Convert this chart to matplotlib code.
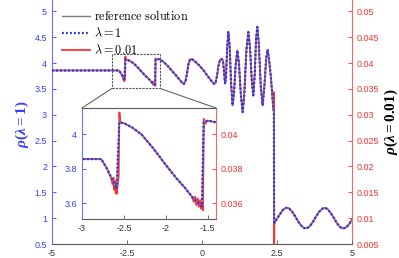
import matplotlib.pyplot as plt
import numpy as np
from matplotlib.patches import Rectangle, ConnectionPatch

plt.rcParams['font.family'] = ['Liberation Sans', 'DejaVu Sans']
plt.rcParams['mathtext.fontset'] = 'cm'
# bold serif for the two axis titles (used through math_fontfamily='custom')
plt.rcParams['mathtext.rm'] = 'Liberation Serif:bold'
plt.rcParams['mathtext.it'] = 'Liberation Serif:italic:bold'
plt.rcParams['mathtext.bf'] = 'Liberation Serif:bold'

# density (reference and lambda = 1 overlap)
x_ref = [-5, -2.77, -2.70, -2.64, -2.587, -2.555, -2.50, -2.40, -2.29, -2.15,
         -2.01, -1.88, -1.77, -1.67, -1.60, -1.568, -1.548, -1.50, -1.45, -1.40,
         -1.30, -1.15, -1.00, -0.85, -0.72, -0.65, -0.60, -0.55, -0.50, -0.45,
         -0.40, -0.35, -0.25, -0.10, 0.05, 0.20, 0.32, 0.40, 0.45, 0.50,
         0.55, 0.60, 0.65, 0.70, 0.74, 0.77, 0.80, 0.84, 0.877, 0.92,
         0.97, 1.02, 1.07, 1.12, 1.178, 1.23, 1.30, 1.356, 1.41, 1.48,
         1.545, 1.60, 1.66, 1.71, 1.76, 1.80, 1.845, 1.89, 1.96, 2.02,
         2.08, 2.14, 2.19, 2.24, 2.30, 2.36, 2.395, 2.405, 2.42, 2.5,
         2.6, 2.7, 2.8, 2.9, 3.0, 3.1, 3.2, 3.3, 3.4, 3.5,
         3.6, 3.7, 3.8, 3.9, 4.0, 4.1, 4.2, 4.3, 4.4, 4.5,
         4.6, 4.7, 4.8, 4.9, 5.0]
rho_ref = [3.857, 3.857, 3.80, 3.74, 3.685, 4.07, 4.065, 4.04, 4.00, 3.92,
           3.83, 3.75, 3.69, 3.63, 3.60, 3.585, 4.07, 4.08, 4.075, 4.07,
           4.03, 3.95, 3.85, 3.75, 3.66, 3.61, 3.60, 3.65, 3.80, 3.98,
           4.07, 4.08, 4.04, 3.96, 3.86, 3.74, 3.65, 3.60, 3.61, 3.75,
           3.95, 4.06, 4.08, 4.05, 3.80, 3.60, 3.75, 4.30, 4.60, 4.35,
           3.60, 3.18, 3.45, 3.95, 4.245, 4.00, 3.35, 3.05, 3.40, 4.25,
           4.60, 4.30, 3.65, 3.375, 3.80, 4.45, 4.70, 4.40, 3.55, 3.18,
           3.55, 4.10, 4.26, 4.05, 3.70, 3.25, 3.05, 0.95, 0.91, 0.99,
           1.08, 1.16, 1.20, 1.19, 1.13, 1.04, 0.94, 0.86, 0.81, 0.805,
           0.85, 0.93, 1.03, 1.12, 1.18, 1.20, 1.17, 1.09, 1.00, 0.90,
           0.83, 0.80, 0.82, 0.88, 0.97]

# lambda = 0.01, in right-axis units
x_lam001 = [-5, -2.77, -2.70, -2.65, -2.635, -2.625, -2.615, -2.605, -2.598, -2.592,
            -2.587, -2.575, -2.562, -2.557, -2.553, -2.545, -2.50, -2.40, -2.29, -2.15,
            -2.01, -1.88, -1.77, -1.69, -1.665, -1.65, -1.635, -1.62, -1.605, -1.59,
            -1.578, -1.568, -1.556, -1.550, -1.545, -1.535, -1.50, -1.45, -1.40,
            -1.30, -1.15, -1.00, -0.85, -0.72, -0.65, -0.60, -0.55, -0.50, -0.45,
            -0.40, -0.35, -0.25, -0.10, 0.05, 0.20, 0.32, 0.40, 0.45, 0.50,
            0.55, 0.60, 0.65, 0.70, 0.74, 0.77, 0.80, 0.84, 0.877, 0.92,
            0.97, 1.02, 1.07, 1.12, 1.178, 1.23, 1.30, 1.356, 1.41, 1.48,
            1.545, 1.60, 1.66, 1.71, 1.76, 1.80, 1.845, 1.89, 1.96, 2.02,
            2.08, 2.14, 2.19, 2.24, 2.30, 2.36, 2.385, 2.39, 2.395, 2.40,
            2.405, 2.41, 2.42, 2.5,
            2.6, 2.7, 2.8, 2.9, 3.0, 3.1, 3.2, 3.3, 3.4, 3.5,
            3.6, 3.7, 3.8, 3.9, 4.0, 4.1, 4.2, 4.3, 4.4, 4.5,
            4.6, 4.7, 4.8, 4.9, 5.0]
rho_lam001 = [0.03857, 0.03857, 0.0380, 0.03745, 0.0371, 0.0375, 0.0368, 0.0373, 0.0366, 0.0371,
              0.03655, 0.0370, 0.0376, 0.0400, 0.04127, 0.0407, 0.04065, 0.0404, 0.0400, 0.0392,
              0.0383, 0.0375, 0.0369, 0.0364, 0.0361, 0.0364, 0.0359, 0.0363, 0.0358, 0.0362,
              0.0357, 0.0360, 0.0356, 0.0385, 0.0409, 0.0406, 0.0408, 0.04075, 0.0407,
              0.0403, 0.0395, 0.0385, 0.0375, 0.0366, 0.0361, 0.0360, 0.0365, 0.0380, 0.0398,
              0.0407, 0.0408, 0.0404, 0.0396, 0.0386, 0.0374, 0.0365, 0.0360, 0.0361, 0.0375,
              0.0395, 0.0406, 0.0408, 0.0405, 0.0380, 0.0360, 0.0375, 0.0430, 0.0460, 0.0435,
              0.0360, 0.0318, 0.0345, 0.0395, 0.04245, 0.0400, 0.0335, 0.0305, 0.0340, 0.0425,
              0.0460, 0.0430, 0.0365, 0.03375, 0.0380, 0.0445, 0.0470, 0.0440, 0.0355, 0.0318,
              0.0355, 0.0410, 0.0426, 0.0405, 0.0370, 0.0325, 0.0310, 0.0344, 0.0305, 0.0300,
              0.0051, 0.0093, 0.0091, 0.0099,
              0.0108, 0.0116, 0.0120, 0.0119, 0.0113, 0.0104, 0.0094, 0.0086, 0.0081, 0.00805,
              0.0085, 0.0093, 0.0103, 0.0112, 0.0118, 0.0120, 0.0117, 0.0109, 0.0100, 0.0090,
              0.0083, 0.0080, 0.0082, 0.0088, 0.0097]

yticks_left = [0.5, 1, 1.5, 2, 2.5, 3, 3.5, 4, 4.5, 5]
yticks_right = [0.005, 0.01, 0.015, 0.02, 0.025, 0.03, 0.035, 0.04, 0.045, 0.05]
xticks = [-5, -2.5, 0, 2.5, 5]
zoom_x = (-3, -1.4)
zoom_y = (3.51, 4.153)

blue = '#3b3bff'
red = '#ff2f2f'
axcol = '#5a5a5a'
tfs = 6.5


def style(a, ar):
    a.set_zorder(ar.get_zorder() + 1)
    a.patch.set_visible(False)
    ar.patch.set_visible(True)
    ar.patch.set_facecolor('white')
    for s in ('top', 'right'):
        a.spines[s].set_visible(False)
    for s in ('top', 'left', 'bottom'):
        ar.spines[s].set_visible(False)
    a.spines['left'].set_color('#7070ff')
    a.spines['bottom'].set_color(axcol)
    ar.spines['right'].set_color('#ff6060')
    a.tick_params(axis='y', direction='in', length=3, colors=blue, labelsize=tfs, width=0.6)
    a.tick_params(axis='x', direction='in', length=3, color=axcol, labelcolor='#333333',
                  labelsize=tfs, width=0.6)
    ar.tick_params(axis='y', direction='in', length=3, colors=red, labelsize=tfs, width=0.6)


def draw(a, ar):
    l0, = a.plot(x_ref, rho_ref, color='#7f7f7f', lw=1.0, zorder=1)
    l2, = ar.plot(x_lam001, rho_lam001, color=red, lw=1.3)
    l1, = a.plot(x_ref, rho_ref, color='#2b2bff', lw=1.6, ls=(0, (0.8, 1.0)), zorder=3)
    return l0, l1, l2


fig = plt.figure(figsize=(3.99, 2.58), dpi=100)
ax = fig.add_axes([52 / 399, 14 / 258, 300 / 399, 244 / 258])
axr = ax.twinx()
l0, l1, l2 = draw(ax, axr)
style(ax, axr)
ax.set_xlim(-5, 5)
ax.set_ylim(0.5, 5.22)
axr.set_ylim(0.005, 0.0522)
ax.set_xticks(xticks)
ax.set_xticklabels(['-5', '-2.5', '0', '2.5', '5'])
ax.set_yticks(yticks_left)
ax.set_yticklabels(['0.5', '1', '1.5', '2', '2.5', '3', '3.5', '4', '4.5', '5'])
axr.set_yticks(yticks_right)
axr.set_yticklabels(['0.005', '0.01', '0.015', '0.02', '0.025', '0.03', '0.035', '0.04', '0.045', '0.05'])

fig.text(22 / 399, 1 - 124 / 258, r'$\rho(\lambda = 1)$', rotation=90, ha='center', va='center',
         color=blue, fontsize=11, math_fontfamily='custom')
fig.text(391 / 399, 1 - 122 / 258, r'$\rho(\lambda = 0.01)$', rotation=90, ha='center', va='center',
         color='black', fontsize=11, math_fontfamily='custom')

ax.legend([l0, l1, l2], [r'$\mathrm{reference\ solution}$', r'$\lambda = 1$', r'$\lambda = 0.01$'],
          loc='upper left', bbox_to_anchor=(0.033, 0.962), frameon=False, fontsize=8.8,
          borderpad=0, borderaxespad=0, handlelength=2.3, handletextpad=0.3, labelspacing=0.25)

ax.add_patch(Rectangle((zoom_x[0], zoom_y[0]), zoom_x[1] - zoom_x[0], 4.168 - zoom_y[0],
                       fill=False, ec='#555555', lw=0.8, ls=(0, (2, 1)), zorder=5))

# inset
axi = fig.add_axes([82 / 399, 1 - 219 / 258, 134 / 399, 111 / 258])
axir = axi.twinx()
axir.set_zorder(5)
draw(axi, axir)
style(axi, axir)
axi.set_zorder(6)
axi.spines['top'].set_visible(True)
axi.spines['top'].set_color(axcol)
axi.set_xlim(*zoom_x)
axi.set_ylim(*zoom_y)
axir.set_ylim(zoom_y[0] * 0.01, zoom_y[1] * 0.01)
axi.set_xticks([-3, -2.5, -2, -1.5])
axi.set_xticklabels(['-3', '-2.5', '-2', '-1.5'])
axi.set_yticks([3.6, 3.8, 4])
axi.set_yticklabels(['3.6', '3.8', '4'])
axir.set_yticks([0.036, 0.038, 0.04])
axir.set_yticklabels(['0.036', '0.038', '0.04'])

for xa, xb in ((zoom_x[0], 0), (zoom_x[1], 1)):
    cp = ConnectionPatch(xyA=(xa, zoom_y[0]), coordsA=ax.transData,
                         xyB=(xb, 1), coordsB=axi.transAxes, color='#666666', lw=0.8)
    cp.set_zorder(7)
    fig.add_artist(cp)

fig.savefig('out.png', dpi=100)
